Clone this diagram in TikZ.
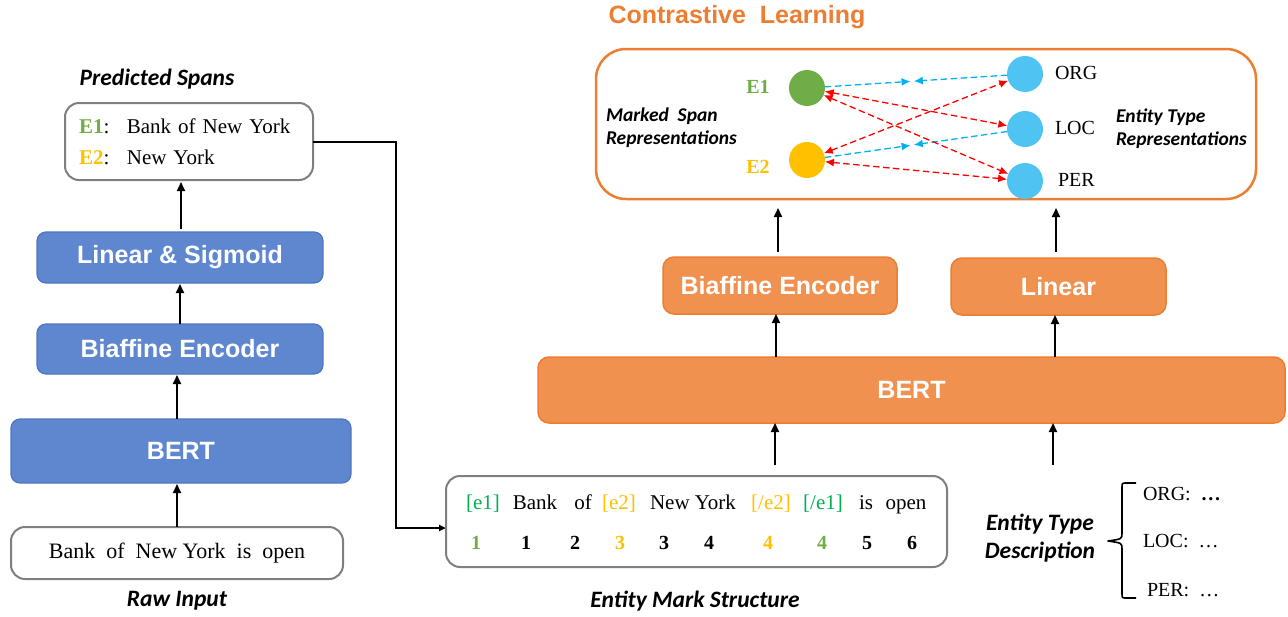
\documentclass[tikz,border=0pt]{standalone}
\usepackage{fontspec}
\setmainfont{Liberation Serif}
\setsansfont{Liberation Sans}
\newfontfamily\calib{Carlito}
\usetikzlibrary{arrows.meta,calc}

\definecolor{bluefill}{HTML}{5F87CF}
\definecolor{blueedge}{HTML}{4E76C2}
\definecolor{orfill}{HTML}{F0914F}
\definecolor{oredge}{HTML}{ED7D31}
\definecolor{grayedge}{HTML}{7F7F7F}
\definecolor{egreen}{HTML}{70AD47}
\definecolor{mgreen}{HTML}{00B050}
\definecolor{eyellow}{HTML}{FFC000}
\definecolor{tblue}{HTML}{4FC3F1}
\definecolor{lblue}{HTML}{00B0F0}
\definecolor{ered}{HTML}{FF0000}

\begin{document}
\begin{tikzpicture}[x=1pt,y=-1pt,
  every node/.style={inner sep=0pt, outer sep=0pt},
  boxfont/.style={font=\fontsize{25}{30}\sffamily\bfseries\selectfont},
  bluebox/.style={boxfont, draw=blueedge, line width=1.2pt, fill=bluefill, rounded corners=9pt, text=white},
  orbox/.style={boxfont, draw=oredge, line width=1.5pt, fill=orfill, rounded corners=11pt, text=white},
  whitebox/.style={draw=grayedge, line width=2pt, fill=white, rounded corners=14pt},
  serif/.style={font=\fontsize{21}{31}\selectfont},
  numtxt/.style={font=\fontsize{20}{24}\selectfont\bfseries},
  caption/.style={font=\fontsize{23.5}{28}\calib\bfseries\itshape\selectfont, align=center},
  smallcap/.style={font=\fontsize{19.5}{23}\calib\bfseries\itshape\selectfont, align=left},
  flow/.style={draw=black, line width=2pt, -{Triangle[length=9pt,width=8pt]}},
  reddash/.style={draw=ered, line width=1.3pt, dash pattern=on 6.5pt off 3.5pt,
    {Latex[length=9pt,width=8pt]}-{Latex[length=9pt,width=8pt]}},
  bluedash/.style={draw=lblue, line width=1.3pt, dash pattern=on 6.5pt off 3.5pt,
    -{Latex[length=9pt,width=8pt]}},
  dot/.style={circle, minimum size=36pt},
]
\useasboundingbox (0,0) rectangle (1288,616);

% ---------------- left pipeline ----------------
\node[caption] (predlab) at (157,79) {Predicted Spans};
\node[whitebox, serif, minimum width=248pt, minimum height=77pt, text width=220pt, align=left]
  (pred) at (189,141.5)
  {\textcolor{egreen}{\textbf{E1}}:~ Bank of New York\\\textcolor{eyellow}{\textbf{E2}}:~ New York};
\node[bluebox, minimum width=286pt, minimum height=51pt] (lin) at (180,257.5) {Linear \& Sigmoid};
\node[bluebox, minimum width=286pt, minimum height=50pt] (bia) at (180,349) {Biaffine Encoder};
\node[bluebox, minimum width=340pt, minimum height=64pt] (bertL) at (181,451) {BERT};
\node[whitebox, font=\fontsize{22}{26}\selectfont, minimum width=332pt, minimum height=52pt] (raw) at (177,553) {Bank~ of~ New York~ is~ open};
\node[caption] (rawlab) at (177,601) {Raw Input};

\draw[flow, shorten <=3pt, shorten >=2pt] (lin.north -| 181,0) -- (pred.south -| 181,0);
\draw[flow, shorten >=1pt] (bia.north) -- (lin.south);
\draw[flow, shorten >=1pt] (raw.north |- bertL.north) -- (raw.north |- bia.south);
\draw[flow, shorten >=1pt] (raw.north) -- (raw.north |- bertL.south);

% spans are fed to the marking step
\coordinate (turn) at (396,528);
\draw[draw=black, line width=2pt, -{Triangle[length=7pt,width=6pt]}] (pred.east) -| (turn) -- (turn -| 446,0);

% ---------------- right pipeline ----------------
\node[font=\fontsize{25}{30}\sffamily\bfseries\selectfont, text=oredge] (cltitle) at (737,17) {Contrastive~ Learning};
\node[draw=oredge, line width=2.5pt, rounded corners=30pt, minimum width=660pt, minimum height=150pt] (clbox) at (926,124) {};

\node[orbox, minimum width=234pt, minimum height=57pt] (biaR) at (780,285.5) {Biaffine Encoder};
\node[orbox, minimum width=215pt, minimum height=57pt] (linR) at (1058.5,286.5) {Linear};
\node[orbox, minimum width=747pt, minimum height=66pt] (bertR) at (911.5,390) {BERT};

\node[whitebox, minimum width=501pt, minimum height=91pt] (mark) at (696.5,521.5) {};
\node[caption] (marklab) at (695,601) {Entity Mark Structure};

% tokens of the marked sentence
\foreach \x/\t [count=\i] in {
  483/\textcolor{mgreen}{[e1]}, 535/Bank, 583/of, 619/\textcolor{eyellow}{[e2]},
  693/New York, 771/\textcolor{eyellow}{[/e2]}, 823/\textcolor{mgreen}{[/e1]},
  866/is, 906/open}
  \node[serif, anchor=base] (t\i) at (\x,509) {\t};
% position indices
\foreach \x/\t/\c [count=\i] in {
  476/1/egreen, 526/1/black, 575/2/black, 620/3/eyellow, 664/3/black,
  709/4/black, 768/4/eyellow, 822/4/egreen, 867/5/black, 912/6/black}
  \node[numtxt, anchor=base, text=\c] (n\i) at (\x,549) {\t};

% entity type descriptions
\node[caption] (desclab) at (1040,538) {Entity Type\\Description};
\draw[line width=1.6pt, line join=round]
  (1136,483) -- (1126,483) .. controls (1122,483) .. (1122,488) -- (1122,533)
  .. controls (1122,539) .. (1108,541) .. controls (1122,543) .. (1122,549)
  -- (1122,593) .. controls (1122,598) .. (1126,598) -- (1136,598);
\node[font=\fontsize{20}{24}\selectfont, anchor=west] (dORG) at (1143,494) {ORG:~ \textbf{\ldots}};
\node[font=\fontsize{20}{24}\selectfont, anchor=west] (dLOC) at (1143,541) {LOC:~ \ldots};
\node[font=\fontsize{20}{24}\selectfont, anchor=west] (dPER) at (1147,590) {PER:~ \ldots};

\coordinate (in1) at (775,465);
\coordinate (in2) at (1053,465);
\draw[flow] (in1) -- (in1 |- bertR.south);
\draw[flow] (in2) -- (in2 |- bertR.south);
\draw[flow] (bertR.north -| 776,0) -- (biaR.south -| 776,0);
\draw[flow] (bertR.north -| 1055,0) -- (linR.south -| 1055,0);
\draw[flow, shorten <=5pt, shorten >=9pt] (biaR.north -| 778,0) -- (clbox.south -| 778,0);
\draw[flow, shorten <=6pt, shorten >=9pt] (linR.north -| 1056,0) -- (clbox.south -| 1056,0);

% representations
\node[dot, fill=egreen] (E1) at (807,88) {};
\node[dot, fill=eyellow] (E2) at (807,160) {};
\node[dot, fill=tblue] (ORG) at (1025,74) {};
\node[dot, fill=tblue] (LOC) at (1025,129) {};
\node[dot, fill=tblue] (PER) at (1025,181) {};

\node[numtxt, text=egreen] (E1lab) at (758,87) {E1};
\node[numtxt, text=eyellow] (E2lab) at (758,167) {E2};
\node[font=\fontsize{20}{24}\selectfont, anchor=west] (ORGlab) at (1055,73) {ORG};
\node[font=\fontsize{20}{24}\selectfont, anchor=west] (LOClab) at (1055,128) {LOC};
\node[font=\fontsize{20}{24}\selectfont, anchor=west] (PERlab) at (1058,180) {PER};

\node[smallcap, anchor=west] (spanlab) at (606,128) {Marked~ Span\\Representations};
\node[smallcap, anchor=west] (typelab) at (1116,128.5) {Entity Type\\Representations};

\draw[bluedash] (E1) -- ($(E1)!0.475!(ORG)$);
\draw[bluedash] (ORG) -- ($(E1)!0.49!(ORG)$);
\draw[bluedash] (E2) -- ($(E2)!0.475!(LOC)$);
\draw[bluedash] (LOC) -- ($(E2)!0.49!(LOC)$);
\draw[reddash] (E1) -- (LOC);
\draw[reddash] (E1) -- (PER);
\draw[reddash] (E2) -- (ORG);
\draw[reddash] (E2) -- (PER);
\end{tikzpicture}
\end{document}
